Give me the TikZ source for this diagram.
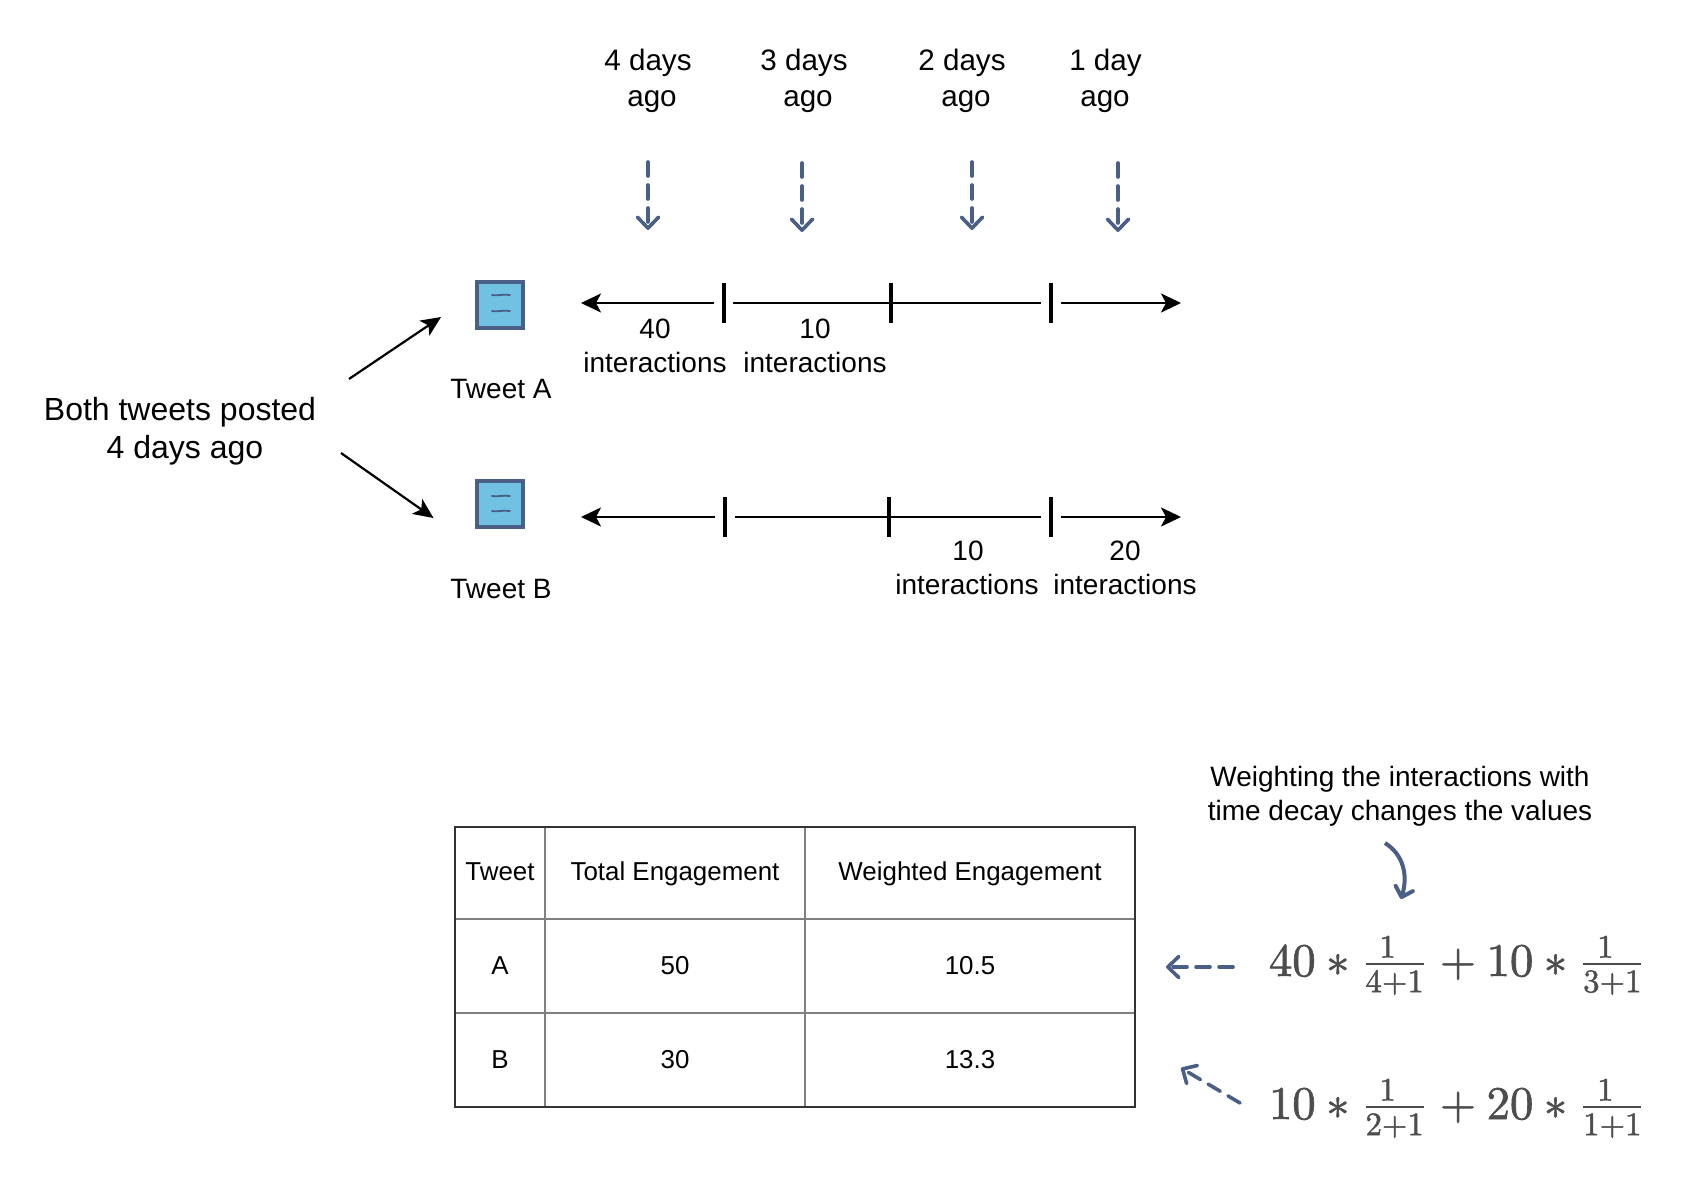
\RequirePackage{fix-cm}
\documentclass[tikz,border=0pt]{standalone}
\usepackage[no-math]{fontspec}
\usepackage{graphicx}
\setmainfont{Liberation Sans}
\usetikzlibrary{arrows.meta}
\definecolor{inkblue}{HTML}{4A5F85}
\definecolor{iconfill}{HTML}{70C1E2}
\definecolor{mathgrey}{HTML}{4D4D4D}
\newcommand{\kfrac}[2]{\frac{\scalebox{.7}{$#1$}}{\scalebox{.7}{$#2$}}}
\newcommand{\heavyon}{\special{pdf:literal 2 Tr 0.14 w}}
\newcommand{\heavyoff}{\special{pdf:literal 0 Tr}}
\tikzset{
  txt/.style={anchor=base,inner sep=0pt,text=black},
  lab/.style={txt,font=\fontsize{14}{16}\selectfont},
  ago/.style={txt,font=\fontsize{14.8}{17}\selectfont},
  big/.style={txt,font=\fontsize{16}{18}\selectfont},
  cell/.style={txt,font=\fontsize{12.95}{15}\selectfont},
  formula/.style={anchor=base,inner sep=0pt,text=mathgrey,font=\fontsize{10}{12}\selectfont,scale=2.34},
  axisline/.style={line width=1.25pt,black},
  axistip/.style={axisline,-{Stealth[length=10pt,width=9.5pt,inset=2.5pt]}},
  tick/.style={line width=2pt,black},
  solidarrow/.style={line width=1.1pt,black,-{Stealth[length=10pt,width=9pt,inset=2.5pt]}},
  dasharrow/.style={line width=1.8pt,inkblue,line cap=round,dash pattern=on 7pt off 4.5pt,
     -{Straight Barb[length=5.5pt,width=10.5pt,line width=1.8pt,round]}},
  icon/.style={draw=inkblue,line width=2pt,fill=iconfill,minimum width=23pt,minimum height=23pt,inner sep=0pt},
  iconline/.style={inkblue,line width=0.9pt,line cap=round},
  outer/.style={line width=1.2pt,draw=black!80},
  inner/.style={line width=1pt,draw=black!50},
}
\begin{document}
\begin{tikzpicture}[x=0.5pt,y=-0.5pt]
\useasboundingbox (0,0) rectangle (1698,1188);

% header labels
\node[ago] (d4a) at (648,71) {4 days};
\node[ago] (d4b) at (652,107) {ago};
\node[ago] (d3a) at (804,71) {3 days};
\node[ago] (d3b) at (808,107) {ago};
\node[ago] (d2a) at (962,71) {2 days};
\node[ago] (d2b) at (966,107) {ago};
\node[ago] (d1a) at (1105.5,71) {1 day};
\node[ago] (d1b) at (1105,107) {ago};

% dashed arrows to timeline
\foreach \n/\x/\ya/\yb in {p/648/162/230,q/802/163/232,r/972/162/230,s/1118/163/232}{
  \coordinate (\n top) at (\x,\ya);
  \coordinate (\n tip) at (\x,\yb);
  \draw[dasharrow] (\n top) -- (\n tip);
}

% both tweets
\node[big] (both1) at (180,420) {Both tweets posted};
\node[big] (both2) at (185,458) {4 days ago};
\coordinate (a1s) at (349,379);
\coordinate (a1e) at (441,317);
\coordinate (a2s) at (341,453);
\coordinate (a2e) at (433.5,518);
\draw[solidarrow] (a1s) -- (a1e);
\draw[solidarrow] (a2s) -- (a2e);

% icons
\node[icon] (iconA) at (499.5,304.5) {};
\draw[iconline] (492,295) .. controls (497,296) and (503,294) .. (510,295);
\draw[iconline] (492,311) .. controls (497,312) and (503,310) .. (510,311);
\node[icon] (iconB) at (499.5,504) {};
\draw[iconline] (492,496) .. controls (497,497) and (503,495) .. (510,496);
\draw[iconline] (492,511) .. controls (497,512) and (503,510) .. (510,511);
\node[lab] (tweetA) at (501,398) {Tweet A};
\node[lab] (tweetB) at (501,598) {Tweet B};

% timeline A
\coordinate (aL) at (581,303);
\coordinate (aL2) at (714,303);
\coordinate (aM1) at (733,303);
\coordinate (aM2) at (1041,303);
\coordinate (aR1) at (1061,303);
\coordinate (aR) at (1181,303);
\draw[axistip] (aL2) -- (aL);
\draw[axisline] (aM1) -- (aM2);
\draw[axistip] (aR1) -- (aR);
\coordinate (at1a) at (724,283); \coordinate (at1b) at (724,323);
\coordinate (at2a) at (891,283); \coordinate (at2b) at (891,323);
\coordinate (at3a) at (1051,283); \coordinate (at3b) at (1051,323);
\draw[tick] (at1a) -- (at1b);
\draw[tick] (at2a) -- (at2b);
\draw[tick] (at3a) -- (at3b);
\node[lab] (a40) at (655,338) {40};
\node[lab] (a40i) at (655,372) {interactions};
\node[lab] (a10) at (815,338) {10};
\node[lab] (a10i) at (815,372) {interactions};

% timeline B
\coordinate (bL) at (581,517);
\coordinate (bL2) at (715,517);
\coordinate (bM1) at (735,517);
\coordinate (bM2) at (1040.5,517);
\coordinate (bR1) at (1061,517);
\coordinate (bR) at (1181,517);
\draw[axistip] (bL2) -- (bL);
\draw[axisline] (bM1) -- (bM2);
\draw[axistip] (bR1) -- (bR);
\coordinate (bt1a) at (725,497); \coordinate (bt1b) at (725,537);
\coordinate (bt2a) at (889,497); \coordinate (bt2b) at (889,537);
\coordinate (bt3a) at (1051,497); \coordinate (bt3b) at (1051,537);
\draw[tick] (bt1a) -- (bt1b);
\draw[tick] (bt2a) -- (bt2b);
\draw[tick] (bt3a) -- (bt3b);
\node[lab] (b10) at (968,560) {10};
\node[lab] (b10i) at (967,594) {interactions};
\node[lab] (b20) at (1125,560) {20};
\node[lab] (b20i) at (1125,594) {interactions};

% table
\draw[inner] (545,827) -- (545,1107);
\draw[inner] (805,827) -- (805,1107);
\draw[inner] (455,919) -- (1135,919);
\draw[inner] (455,1013) -- (1135,1013);
\draw[outer] (455,827) rectangle (1135,1107);
\node[cell] (h1) at (500,880) {Tweet};
\node[cell] (h2) at (675,880) {Total Engagement};
\node[cell] (h3) at (970,880) {Weighted Engagement};
\node[cell] (ra1) at (500,974) {A};
\node[cell] (ra2) at (675,974) {50};
\node[cell] (ra3) at (970,974) {10.5};
\node[cell] (rb1) at (500,1068) {B};
\node[cell] (rb2) at (675,1068) {30};
\node[cell] (rb3) at (970,1068) {13.3};

% annotation
\node[lab] (w1) at (1400,786) {Weighting the interactions with};
\node[lab] (w2) at (1400,820) {time decay changes the values};
\coordinate (cs) at (1385,843);
\coordinate (ce) at (1401,899);
\draw[line width=2pt,inkblue,-{Straight Barb[length=4.5pt,width=9pt,line width=2pt,round]}]
  (cs) .. controls (1404,855) and (1408,876) .. (ce);

% formulas
\node[formula] (f1) at (1458,976) {\heavyon$40 * \kfrac{1}{4{+}1} + 10 * \kfrac{1}{3{+}1}$\heavyoff};
\node[formula] (f2) at (1458,1119) {\heavyon$10 * \kfrac{1}{2{+}1} + 20 * \kfrac{1}{1{+}1}$\heavyoff};
\coordinate (e1s) at (1233,967);
\coordinate (e1t) at (1166,967);
\coordinate (e2s) at (1240,1103);
\coordinate (e2t) at (1181,1068);
\draw[dasharrow] (e1s) -- (e1t);
\draw[dasharrow] (e2s) -- (e2t);
\end{tikzpicture}
\end{document}
